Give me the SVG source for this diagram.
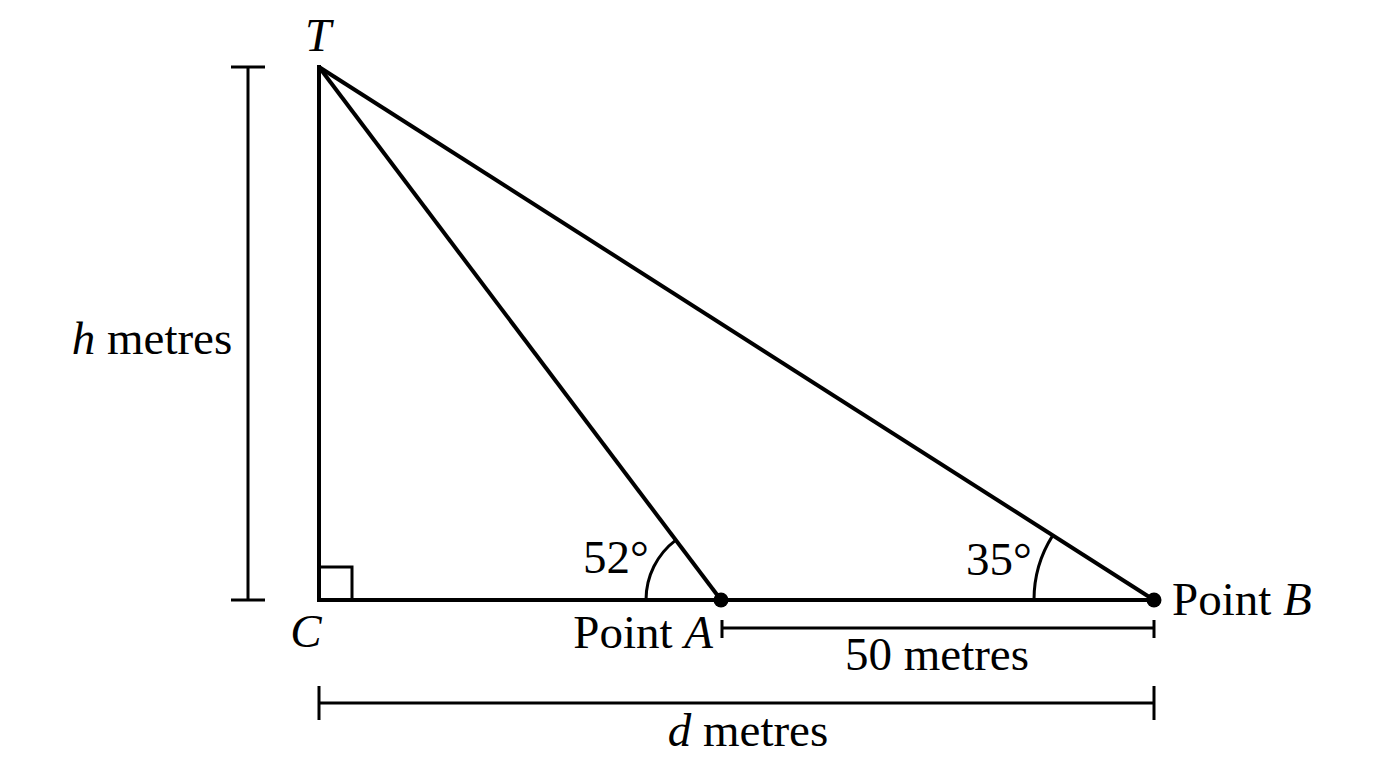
<svg xmlns="http://www.w3.org/2000/svg" width="1376" height="768" viewBox="0 0 1376 768">
<style>
.m{stroke:#000;stroke-width:4;fill:none;stroke-linecap:butt}
.d{stroke:#000;stroke-width:3;fill:none}
.a{stroke:#000;stroke-width:3;fill:none}
text{font-family:"Liberation Serif","Times New Roman",serif;font-size:47px;fill:#000}
.i{font-style:italic}
</style>
<rect width="1376" height="768" fill="#fff"/>
<g id="connectors">
<line class="m" x1="319" y1="65" x2="319" y2="602"/>
<line class="m" x1="317" y1="600" x2="1154" y2="600"/>
<line class="m" x1="319" y1="67" x2="721" y2="600"/>
<line class="m" x1="319" y1="67" x2="1154" y2="600"/>
<polyline class="d" points="319,567 352,567 352,600"/>
<path class="a" d="M646,600 A75,75 0 0 1 675.8,540.1"/>
<path class="a" d="M1034,600 A120,120 0 0 1 1052.8,535.4"/>
</g>
<g id="node-T"><text class="i" x="318" y="51" text-anchor="middle">T</text></g>
<g id="node-C"><text class="i" x="306" y="647" text-anchor="middle">C</text></g>
<g id="node-A"><circle cx="721" cy="600" r="7.5"/><text x="713" y="648" text-anchor="end">Point <tspan class="i">A</tspan></text></g>
<g id="node-B"><circle cx="1154" cy="600" r="7.5"/><text x="1172" y="615">Point <tspan class="i">B</tspan></text></g>
<g id="angle-A"><text x="616" y="573" text-anchor="middle">52°</text></g>
<g id="angle-B"><text x="999" y="575" text-anchor="middle">35°</text></g>
<g id="dim-h">
<line class="d" x1="248" y1="67" x2="248" y2="600"/>
<line class="d" x1="231" y1="67" x2="265" y2="67"/>
<line class="d" x1="231" y1="600" x2="265" y2="600"/>
<text x="152" y="354" text-anchor="middle"><tspan class="i">h</tspan> metres</text>
</g>
<g id="dim-50">
<line class="d" x1="722" y1="628" x2="1154" y2="628"/>
<line class="d" x1="722" y1="620" x2="722" y2="638"/>
<line class="d" x1="1154" y1="620" x2="1154" y2="638"/>
<text x="937" y="670" text-anchor="middle">50 metres</text>
</g>
<g id="dim-d">
<line class="d" x1="319" y1="703" x2="1154" y2="703"/>
<line class="d" x1="319" y1="686" x2="319" y2="720"/>
<line class="d" x1="1154" y1="686" x2="1154" y2="720"/>
<text x="748" y="746" text-anchor="middle"><tspan class="i">d</tspan> metres</text>
</g>
</svg>
